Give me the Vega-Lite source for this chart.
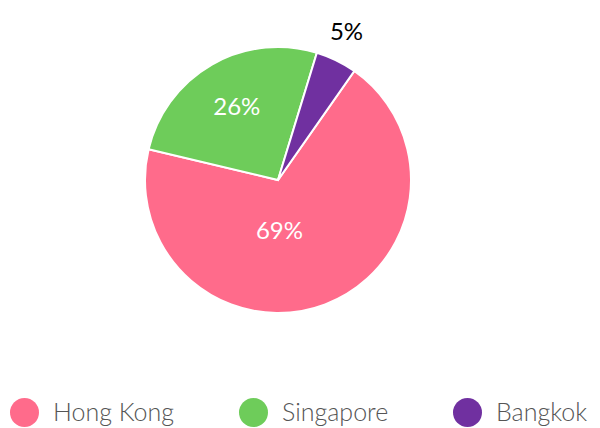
{
  "$schema": "https://vega.github.io/schema/vega-lite/v6.json",
  "width": 556,
  "height": 360,
  "padding": {"left": 0, "top": 0, "right": 44, "bottom": 68},
  "autosize": {"type": "none"},
  "background": "white",
  "view": {"stroke": null},
  "config": {"font": "Lato"},
  "data": {"values": [
    {"city": "Hong Kong", "share": 69, "label": "69%"},
    {"city": "Singapore", "share": 26, "label": "26%"},
    {"city": "Bangkok", "share": 5, "label": "5%"}
  ]},
  "encoding": {
    "theta": {"field": "share", "type": "quantitative", "stack": true, "scale": {"range": [0.2967, 6.5799]}},
    "order": {"field": "city", "sort": "ascending"}
  },
  "layer": [
    {
      "mark": {"type": "arc", "outerRadius": 133, "stroke": "white", "strokeWidth": 2},
      "encoding": {
        "color": {
          "field": "city", "type": "nominal",
          "scale": {"domain": ["Hong Kong", "Singapore", "Bangkok"], "range": ["#ff6b8b", "#6ecc5a", "#7030a0"]},
          "legend": {
            "title": null, "orient": "none", "direction": "horizontal", "legendX": 10, "legendY": 398,
            "symbolType": "circle", "symbolSize": 841, "symbolStrokeWidth": 0,
            "labelFont": "Lato", "labelFontSize": 25, "labelFontWeight": 300, "labelColor": "#555555", "labelOffset": 14,
            "columnPadding": 64, "labelLimit": 400
          }
        }
      }
    },
    {
      "mark": {"type": "text", "radius": 83, "font": "Lato", "fontSize": 24, "fill": "white"},
      "encoding": {"text": {"condition": {"test": "datum.city == 'Singapore'", "field": "label"}, "value": ""}}
    },
    {
      "mark": {"type": "text", "radius": 83, "dx": -28, "dy": -26, "font": "Lato", "fontSize": 24, "fill": "white"},
      "encoding": {"text": {"condition": {"test": "datum.city == 'Hong Kong'", "field": "label"}, "value": ""}}
    },
    {
      "mark": {"type": "text", "radius": 163, "dx": -3, "font": "Lato", "fontSize": 24, "fill": "black"},
      "encoding": {"text": {"condition": {"test": "datum.city == 'Bangkok'", "field": "label"}, "value": ""}}
    }
  ]
}
